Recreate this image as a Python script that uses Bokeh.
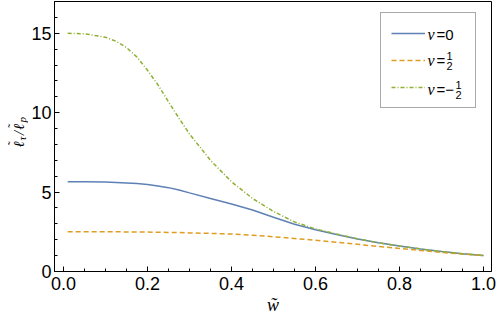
from math import pi
from bokeh.plotting import figure
from bokeh.layouts import row
from bokeh.models import Range1d, Label, Legend, LegendItem, FixedTicker, NumeralTickFormatter
from bokeh.embed import file_html
from bokeh.resources import INLINE

# ---- data ----
w = [0.01, 0.05, 0.1, 0.125, 0.15, 0.175, 0.2, 0.225, 0.25, 0.275, 0.3, 0.35, 0.4,
     0.45, 0.5, 0.55, 0.6, 0.65, 0.7, 0.75, 0.8, 0.85, 0.9, 0.95, 1.0]
nu_0 = [5.65, 5.65, 5.63, 5.61, 5.58, 5.54, 5.48, 5.39, 5.28, 5.13, 4.95, 4.6, 4.25,
        3.87, 3.42, 2.98, 2.63, 2.33, 2.05, 1.81, 1.6, 1.42, 1.26, 1.12, 1.0]
nu_half = [2.5, 2.5, 2.5, 2.5, 2.49, 2.49, 2.48, 2.47, 2.46, 2.45, 2.43, 2.4, 2.36,
           2.28, 2.19, 2.08, 1.97, 1.84, 1.71, 1.58, 1.45, 1.32, 1.2, 1.1, 1.0]
nu_mhalf = [15.0, 14.97, 14.75, 14.5, 14.1, 13.5, 12.67, 11.75, 10.68, 9.65, 8.66, 7.0, 5.65,
            4.6, 3.78, 3.12, 2.68, 2.36, 2.06, 1.81, 1.6, 1.42, 1.26, 1.12, 1.0]

x_ticks = [0.0, 0.2, 0.4, 0.6, 0.8, 1.0]
x_minor = [i * 0.05 for i in range(21)]
y_ticks = [0, 5, 10, 15]
y_minor = list(range(0, 18))

# ---- layout (page px; the figure sits at the page's top-left corner) ----
TOTAL_W, TOTAL_H = 498, 321
YW = 28                      # strip carrying the y-axis title
W, H = TOTAL_W - YW, TOTAL_H
BL, BR, BT, BB = 26, 7, 1, 50
X0, X1 = -0.0214, 1.019
Y0, Y1 = 0.0, 17.0
FL, FR = YW + BL, YW + W - BR
FT, FB = BT, H - BB


def dx(px):
    return X0 + (px - FL) / (FR - FL) * (X1 - X0)


def dy(py):
    return Y0 + (FB - py) / (FB - FT) * (Y1 - Y0)


p = figure(width=W, height=H, x_range=Range1d(X0, X1), y_range=Range1d(Y0, Y1),
           output_backend="svg", toolbar_location=None,
           min_border_left=BL, min_border_right=BR, min_border_top=BT, min_border_bottom=BB)
p.grid.visible = False
p.outline_line_color = "black"
p.outline_line_alpha = 1.0
p.outline_line_width = 1
p.background_fill_color = "white"
p.border_fill_color = "white"

for ax in (p.xaxis[0], p.yaxis[0]):
    ax.axis_line_color = "black"
    ax.axis_line_width = 1
    ax.major_tick_line_color = "black"
    ax.minor_tick_line_color = "black"
    ax.major_tick_in = 5
    ax.major_tick_out = 0
    ax.minor_tick_in = 3
    ax.minor_tick_out = 0
    ax.major_label_text_font = "Liberation Sans"
    ax.major_label_text_font_size = "18px"
    ax.major_label_text_color = "black"

p.xaxis[0].ticker = FixedTicker(ticks=x_ticks, minor_ticks=x_minor)
p.xaxis[0].formatter = NumeralTickFormatter(format="0.0")
p.xaxis[0].major_label_standoff = 5
p.xaxis[0].axis_label = "w\u0303"
p.xaxis[0].axis_label_text_font = "Liberation Serif"
p.xaxis[0].axis_label_text_font_style = "italic"
p.xaxis[0].axis_label_text_font_size = "18px"
p.xaxis[0].axis_label_text_color = "black"
p.xaxis[0].axis_label_standoff = 2
p.yaxis[0].ticker = FixedTicker(ticks=y_ticks, minor_ticks=y_minor)
p.yaxis[0].major_label_standoff = 3

r0 = p.line(w, nu_0, line_color="#5E81B5", line_width=1.5)
r1 = p.line(w, nu_half, line_color="#E19C24", line_width=1.5, line_dash="5 3")
r2 = p.line(w, nu_mhalf, line_color="#8FB032", line_width=1.5, line_dash="4 2 1 2")

LEG_L, LEG_B = 380, 108
legend = Legend(items=[LegendItem(label=" ", renderers=[r0]),
                       LegendItem(label=" ", renderers=[r1]),
                       LegendItem(label=" ", renderers=[r2])],
                location=(LEG_L - FL, FB - LEG_B), padding=10, spacing=7,
                glyph_width=34, glyph_height=20, label_width=35, label_height=20,
                label_standoff=5, margin=0, border_line_color="#555555",
                border_line_width=1, background_fill_alpha=0.0,
                label_text_font_size="8px")
p.add_layout(legend, "center")

SERIF = "Liberation Serif"
SANS = "Liberation Sans"


def lab(fig, x, y, text, font=SANS, size=15, style="normal", align="left",
        baseline="middle", angle=0.0, units="data"):
    fig.add_layout(Label(x=x, y=y, x_units=units, y_units=units, text=text, text_font=font,
                         text_font_size=f"{size}px", text_font_style=style,
                         text_align=align, text_baseline=baseline, angle=angle,
                         text_color="black", level="overlay"))


def plab(px, py, text, *a, **k):
    lab(p, dx(px), dy(py), text, *a, **k)


# legend texts (ν in italic serif, stacked fractions)
plab(427, 34, "ν", SERIF, 16, "italic")
plab(436, 34, "=0", SANS, 15)
plab(427, 60, "ν", SERIF, 16, "italic")
plab(436, 60, "=", SANS, 15)
plab(449, 55, "1", SANS, 11, align="center")
plab(449, 65, "2", SANS, 11, align="center")
plab(427, 89, "ν", SERIF, 16, "italic")
plab(436, 89, "=−", SANS, 15)
plab(458, 84, "1", SANS, 11, align="center")
plab(458, 94, "2", SANS, 11, align="center")

# ---- y-axis title strip ----
yfig = figure(width=YW, height=H, x_axis_type=None, y_axis_type=None,
              x_range=Range1d(0, 1), y_range=Range1d(0, 1),
              output_backend="svg", toolbar_location=None,
              min_border_left=0, min_border_right=0, min_border_top=0, min_border_bottom=0)
yfig.outline_line_color = None
yfig.grid.visible = False


def ylab(px, py, text, size, align="left"):
    lab(yfig, px, py, text, SERIF, size, "italic", align=align,
        baseline="alphabetic", angle=pi / 2, units="canvas")


MAIN_BASE, TILDE_BASE, SUB_BASE = 18, 12, 21.5
ylab(MAIN_BASE, 147, "\u2113", 15)
ylab(TILDE_BASE, 143.5, "\u02dc", 12, align="center")
ylab(SUB_BASE, 140, "τ", 11)
ylab(MAIN_BASE, 134.5, "/", 15)
ylab(MAIN_BASE, 129.5, "\u2113", 15)
ylab(TILDE_BASE, 126, "\u02dc", 12, align="center")
ylab(SUB_BASE, 122, "p", 11)

layout = row(yfig, p, spacing=0)
open("out.html", "w").write(file_html(layout, INLINE))
